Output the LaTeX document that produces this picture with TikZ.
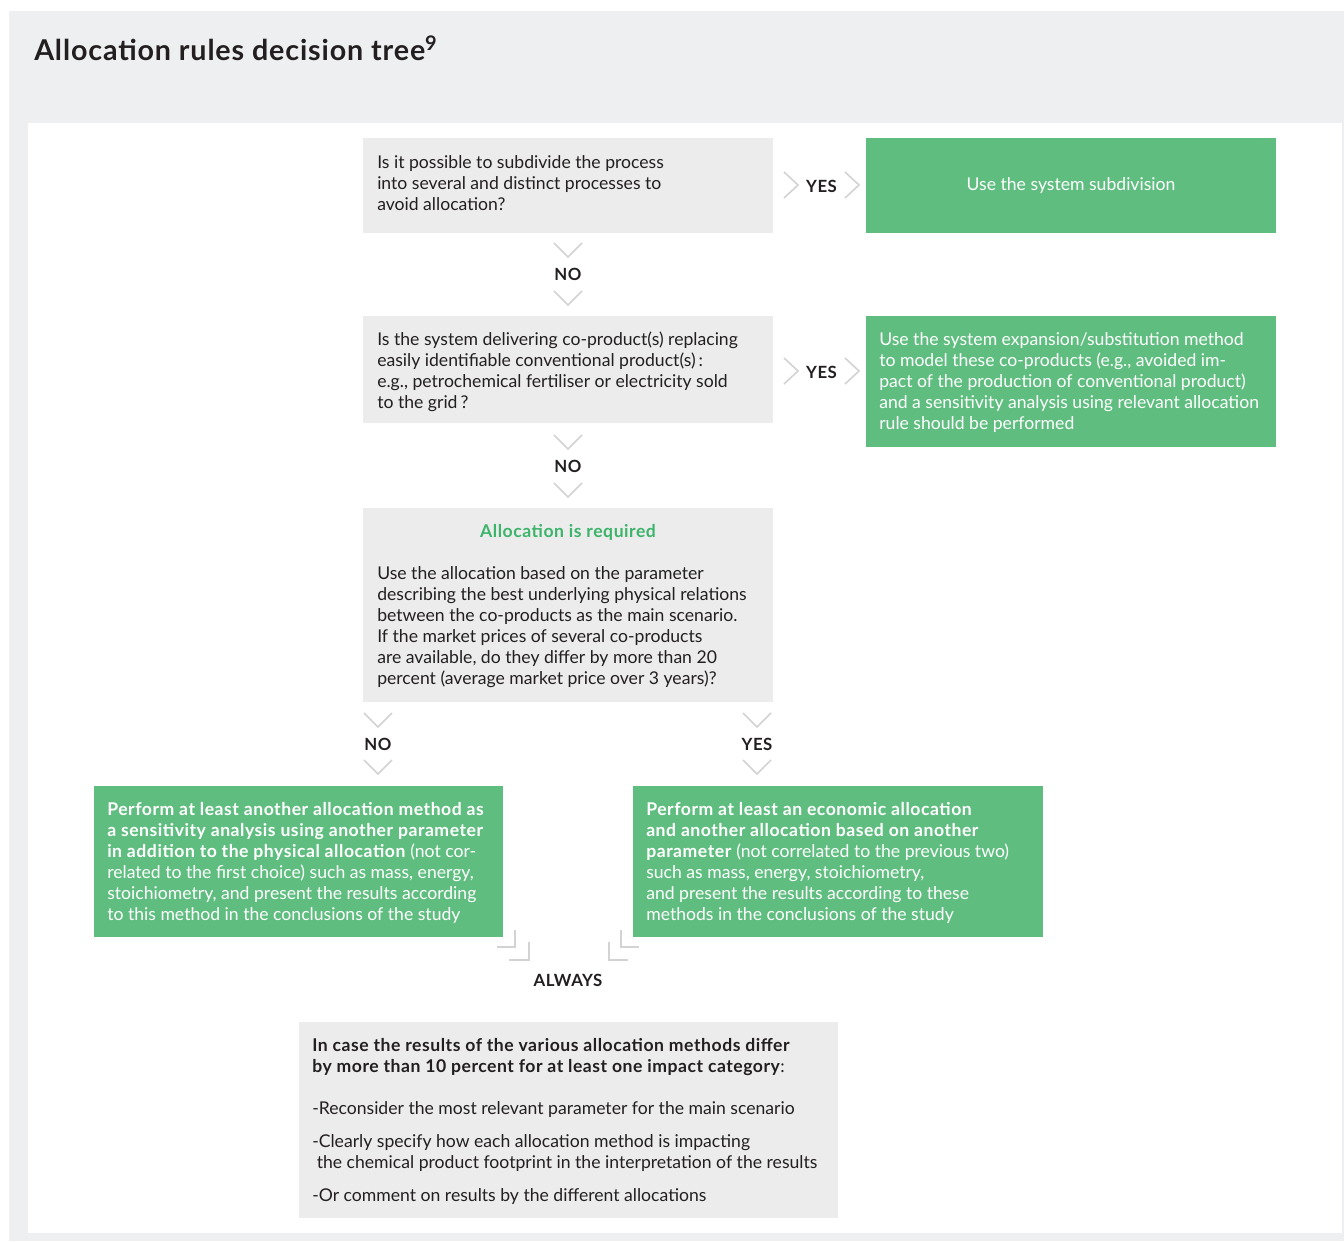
\documentclass[tikz,border=0pt]{standalone}
\usepackage{fontspec}
\setmainfont{Lato}[BoldFeatures={LetterSpace=3}]
\definecolor{panelgray}{HTML}{EEEFF1}
\definecolor{boxgray}{HTML}{ECECED}
\definecolor{boxgreen}{HTML}{5FBE7F}
\definecolor{titlegreen}{HTML}{3CB46A}
\definecolor{textc}{HTML}{231F20}
\definecolor{chevc}{HTML}{D3D3D3}
\begin{document}
\begin{tikzpicture}[x=0.75pt,y=-0.75pt,
  qbox/.style={fill=boxgray, inner sep=0pt, draw=none},
  gbox/.style={fill=boxgreen, inner sep=0pt, draw=none},
  txt/.style={anchor=west, align=left, inner sep=0pt, text=textc, font=\fontsize{13.2}{15.75}\selectfont},
  wtxt/.style={txt, text=white},
  lbl/.style={inner sep=0pt, text=textc, font=\bfseries\fontsize{12.6}{15}\selectfont},
  chev/.style={draw=chevc, line width=1.2pt, line join=miter},
]
\useasboundingbox (0,0) rectangle (1344,1241);
\fill[white] (0,0) rectangle (1344,1241);
\fill[panelgray] (9,11) rectangle (1344,1241);
\fill[white] (28,123) rectangle (1342,1233);

\node[anchor=base west, inner sep=0pt, text=textc, font=\bfseries\fontsize{21.5}{25}\selectfont] (title) at (34,61) {Allocation rules decision tree\textsuperscript{9}};

% boxes
\node[qbox, minimum width=307.5pt, minimum height=71.25pt] (q1) at (568,185.5) {};
\node[gbox, minimum width=307.5pt, minimum height=71.25pt] (g1) at (1071,185.5) {};
\node[qbox, minimum width=307.5pt, minimum height=80.25pt] (q2) at (568,369.5) {};
\node[gbox, minimum width=307.5pt, minimum height=98.25pt] (g2) at (1071,381.5) {};
\node[qbox, minimum width=307.5pt, minimum height=145.5pt] (q3) at (568,605) {};
\node[gbox, minimum width=306.75pt, minimum height=113.25pt] (g3) at (298.5,861.5) {};
\node[gbox, minimum width=307.5pt, minimum height=113.25pt] (g4) at (838,861.5) {};
\node[qbox, minimum width=404.25pt, minimum height=147pt] (q4) at (568.5,1120) {};

% texts
\node[txt] (t1) at (377,183) {Is it possible to subdivide the process\\into several and distinct processes to\\avoid allocation?};
\node[inner sep=0pt, text=white, font=\fontsize{13.2}{15.75}\selectfont] (tg1) at (1071,186) {Use the system subdivision};
\node[txt] (t2) at (377,372) {Is the system delivering co-product(s) replacing\\easily identifiable conventional product(s)\,:\\e.g., petrochemical fertiliser or electricity sold\\to the grid\,?};
\node[wtxt] (tg2) at (879,383) {Use the system expansion/substitution method\\to model these co-products (e.g., avoided im-\\pact of the production of conventional product)\\and a sensitivity analysis using relevant allocation\\rule should be performed};
\node[inner sep=0pt, text=titlegreen, font=\bfseries\fontsize{13.2}{15.75}\selectfont] (t3h) at (568,532) {Allocation is required};
\node[txt] (t3) at (377,627) {Use the allocation based on the parameter\\describing the best underlying physical relations\\between the co-products as the main scenario.\\If the market prices of several co-products\\are available, do they differ by more than 20\\percent (average market price over 3 years)?};
\node[wtxt] (tg3) at (107,863) {\textbf{Perform at least another allocation method as}\\\textbf{a sensitivity analysis using another parameter}\\\textbf{in addition to the physical allocation} (not cor-\\related to the first choice) such as mass, energy,\\stoichiometry, and present the results according\\to this method in the conclusions of the study};
\node[wtxt] (tg4) at (646,863) {\textbf{Perform at least an economic allocation}\\\textbf{and another allocation based on another}\\\textbf{parameter} (not correlated to the previous two)\\such as mass, energy, stoichiometry,\\and present the results according to these\\methods in the conclusions of the study};
\node[txt] (t4) at (312,1121) {\textbf{In case the results of the various allocation methods differ}\\\textbf{by more than 10 percent for at least one impact category}:\\[15.75pt]-Reconsider the most relevant parameter for the main scenario\\[9pt]-Clearly specify how each allocation method is impacting\\\ the chemical product footprint in the interpretation of the results\\[9pt]-Or comment on results by the different allocations};

% labels
\node[lbl] (yes1) at (821.5,186) {YES};
\node[lbl] (yes2) at (821.5,372) {YES};
\node[lbl] (no1) at (568,274) {NO};
\node[lbl] (no2) at (568,466) {NO};
\node[lbl] (no3) at (378,744) {NO};
\node[lbl] (yes3) at (757,744) {YES};
\node[lbl] (always) at (568,980) {ALWAYS};

% chevrons right
\foreach \yy in {185,371}{
  \draw[chev] (784,\yy-13) -- (798,\yy) -- (784,\yy+13);
  \draw[chev] (845,\yy-13) -- (859,\yy) -- (845,\yy+13);
}
% chevrons down
\foreach \xx/\ya/\yb in {568/243/291, 568/435/483, 378/713/760, 757/713/760}{
  \draw[chev] (\xx-14,\ya) -- (\xx,\ya+14) -- (\xx+14,\ya);
  \draw[chev] (\xx-14,\yb) -- (\xx,\yb+14) -- (\xx+14,\yb);
}
% corner elbows toward ALWAYS
\draw[chev] (497,947) -- (515,947) -- (515,930);
\draw[chev] (509,960) -- (529,960) -- (529,942);
\draw[chev] (639,947) -- (621,947) -- (621,930);
\draw[chev] (628,960) -- (609,960) -- (609,942);
\end{tikzpicture}
\end{document}
